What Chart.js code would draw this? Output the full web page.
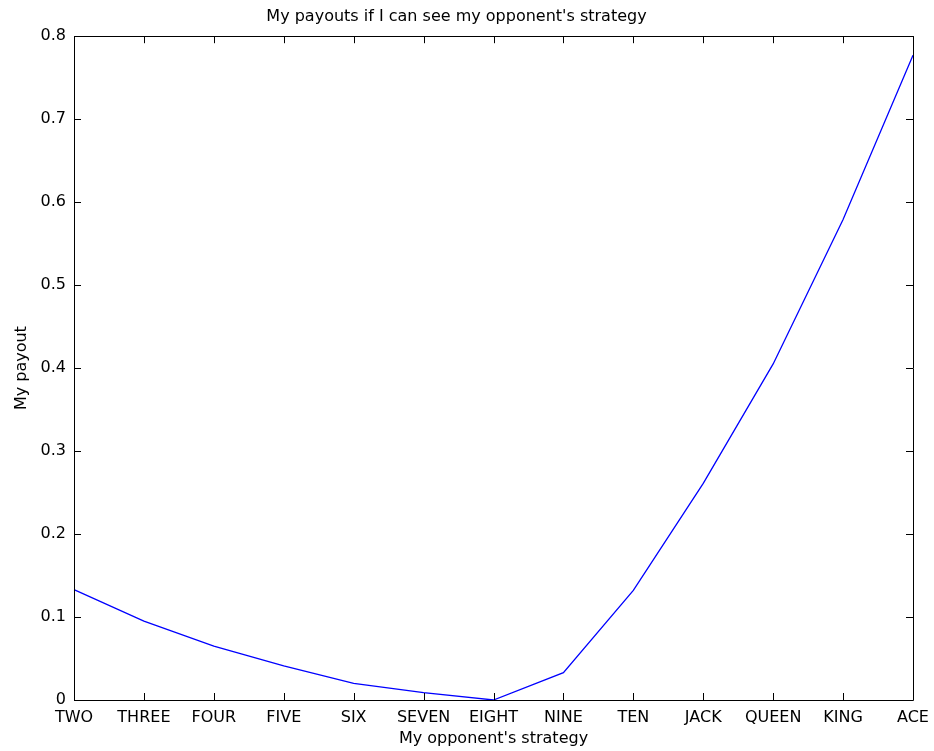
<!DOCTYPE html>
<html>
<head>
<meta charset="utf-8">
<script src="https://cdn.jsdelivr.net/npm/chart.js@4.4.0/dist/chart.umd.min.js"></script>
<style>
  html, body { margin: 0; padding: 0; background: #fff; }
  #wrap { width: 934px; height: 751px; }
</style>
</head>
<body>
<div id="wrap"><canvas id="payoutChart" width="934" height="751"></canvas></div>
<script>
// data
const strategies = ["TWO", "THREE", "FOUR", "FIVE", "SIX", "SEVEN", "EIGHT", "NINE", "TEN", "JACK", "QUEEN", "KING", "ACE"];
const payouts = [0.133, 0.095, 0.065, 0.041, 0.020, 0.009, 0.0, 0.033, 0.132, 0.261, 0.405, 0.579, 0.777];
const yTicks = [0, 0.1, 0.2, 0.3, 0.4, 0.5, 0.6, 0.7, 0.8];

const FONT = "'DejaVu Sans', sans-serif";
const TICK_LEN = 7;

// matlab style box with inward ticks on all four sides
const boxPlugin = {
  id: "matlabBox",
  afterDraw(chart) {
    const { ctx, chartArea: a, scales } = chart;
    ctx.save();
    ctx.strokeStyle = "#000";
    ctx.lineWidth = 1;
    ctx.beginPath();
    ctx.rect(Math.round(a.left) + 0.5, Math.round(a.top) + 0.5,
      Math.round(a.right - a.left), Math.round(a.bottom - a.top));
    scales.x.ticks.forEach((t, i) => {
      const x = Math.round(scales.x.getPixelForTick(i)) + 0.5;
      ctx.moveTo(x, a.bottom);
      ctx.lineTo(x, a.bottom - TICK_LEN);
      ctx.moveTo(x, a.top);
      ctx.lineTo(x, a.top + TICK_LEN);
    });
    scales.y.ticks.forEach((t, i) => {
      const y = Math.round(scales.y.getPixelForTick(i)) + 0.5;
      ctx.moveTo(a.left, y);
      ctx.lineTo(a.left + TICK_LEN, y);
      ctx.moveTo(a.right, y);
      ctx.lineTo(a.right - TICK_LEN, y);
    });
    ctx.stroke();
    ctx.restore();
  }
};

const ctx = document.getElementById("payoutChart").getContext("2d");
new Chart(ctx, {
  type: "line",
  data: {
    labels: strategies,
    datasets: [{
      data: payouts,
      borderColor: "#0000ff",
      borderWidth: 1.3,
      pointRadius: 0,
      tension: 0,
      fill: false
    }]
  },
  options: {
    responsive: false,
    animation: false,
    layout: { padding: { left: 0, right: 21, top: 0, bottom: 0 } },
    plugins: {
      legend: { display: false },
      tooltip: { enabled: false },
      title: {
        display: true,
        text: "My payouts if I can see my opponent's strategy",
        color: "#000",
        font: { family: FONT, size: 16, weight: "normal", lineHeight: 1.2 },
        padding: { top: 7, bottom: 10 }
      }
    },
    scales: {
      x: {
        type: "category",
        offset: false,
        grid: { display: false },
        border: { display: false },
        ticks: {
          color: "#000",
          font: { family: FONT, size: 16 },
          padding: 0,
          maxRotation: 0,
          autoSkip: false
        },
        title: {
          display: true,
          text: "My opponent's strategy",
          color: "#000",
          font: { family: FONT, size: 16 },
          padding: { top: 0, bottom: 3 }
        },
        afterFit(scale) {
          scale.height = 51;
          scale.paddingLeft = 0;
          scale.paddingRight = 0;
        }
      },
      y: {
        min: 0,
        max: 0.8,
        grid: { display: false },
        border: { display: false },
        afterBuildTicks(scale) {
          scale.ticks = yTicks.map(v => ({ value: v }));
        },
        ticks: {
          color: "#000",
          font: { family: FONT, size: 16 },
          padding: 0,
          callback: v => v === 0 ? "0" : Number(v).toFixed(1)
        },
        title: {
          display: true,
          text: "My payout",
          color: "#000",
          font: { family: FONT, size: 16 },
          padding: { top: 12, bottom: 0 }
        },
        afterFit(scale) {
          scale.width = 74;
          scale.paddingTop = 0;
          scale.paddingBottom = 0;
        }
      }
    }
  },
  plugins: [boxPlugin]
});
</script>
</body>
</html>
